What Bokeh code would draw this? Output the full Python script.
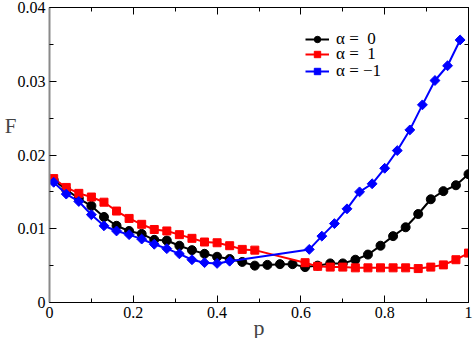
import math
from bokeh.plotting import figure
from bokeh.models import (LinearAxis, FixedTicker, Legend, LegendItem)
from bokeh.embed import file_html
from bokeh.resources import INLINE

# ---- data ----
p_black = [0.01, 0.04, 0.07, 0.10, 0.13, 0.16, 0.19, 0.22, 0.25, 0.28, 0.31, 0.34,
           0.37, 0.40, 0.43, 0.46, 0.49, 0.52, 0.55, 0.58, 0.61, 0.64, 0.67, 0.70,
           0.73, 0.76, 0.79, 0.82, 0.85, 0.88, 0.91, 0.94, 0.97, 1.00]
F_black = [0.0166, 0.0153, 0.0141, 0.0131, 0.0116, 0.0104, 0.0097, 0.0093, 0.0085, 0.0084,
           0.0077, 0.0071, 0.0066, 0.0062, 0.0059, 0.0055, 0.0050, 0.0051, 0.0052, 0.0052,
           0.0048, 0.0050, 0.0053, 0.0053, 0.0058, 0.0065, 0.0077, 0.0090, 0.0102, 0.0120,
           0.0140, 0.0151, 0.0159, 0.0174]

p_red = [0.01, 0.04, 0.07, 0.10, 0.13, 0.16, 0.19, 0.22, 0.25, 0.28, 0.31, 0.34,
         0.37, 0.40, 0.43, 0.46, 0.49, 0.61, 0.64, 0.67, 0.70, 0.73, 0.76, 0.79,
         0.82, 0.85, 0.88, 0.91, 0.94, 0.97, 1.00]
F_red = [0.0168, 0.0156, 0.0148, 0.0143, 0.0136, 0.0124, 0.0114, 0.0106, 0.0099, 0.0097,
         0.0092, 0.0087, 0.0082, 0.0081, 0.0077, 0.0072, 0.0071, 0.0054, 0.0049, 0.0048,
         0.0048, 0.0047, 0.0047, 0.0047, 0.0047, 0.0047, 0.0046, 0.0048, 0.0051, 0.0058,
         0.0067]

p_blue = [0.01, 0.04, 0.07, 0.10, 0.13, 0.16, 0.19, 0.22, 0.25, 0.28, 0.31, 0.34,
          0.37, 0.40, 0.43, 0.62, 0.65, 0.68, 0.71, 0.74, 0.77, 0.80, 0.83, 0.86,
          0.89, 0.92, 0.95, 0.98]
F_blue = [0.0163, 0.0147, 0.0137, 0.0119, 0.0104, 0.0097, 0.0092, 0.0086, 0.0079, 0.0073,
          0.0066, 0.0058, 0.0054, 0.0053, 0.0056, 0.0072, 0.0090, 0.0107, 0.0127, 0.0150,
          0.0161, 0.0182, 0.0206, 0.0234, 0.0268, 0.0301, 0.0321, 0.0356]

NB = "\u00a0"
series_labels = ["\u03b1 =  0", "\u03b1 =  1", "\u03b1 = \u22121"]

x_ticks = [0, 0.2, 0.4, 0.6, 0.8, 1.0]
x_tick_labels = ["0", "0.2", "0.4", "0.6", "0.8", "1"]
x_minor = [0.1, 0.3, 0.5, 0.7, 0.9]
y_ticks = [0, 0.01, 0.02, 0.03, 0.04]
y_tick_labels = ["0", "0.01", "0.02", "0.03", "0.04"]
y_minor = [0.005, 0.015, 0.025, 0.035]

FONT = "Liberation Serif"

p = figure(width=473, height=342, x_range=(0, 1), y_range=(0, 0.04),
           output_backend="svg", toolbar_location=None,
           min_border_left=49, min_border_right=5, min_border_top=7, min_border_bottom=38)
p.grid.visible = False
p.outline_line_color = "black"
p.outline_line_width = 1
p.xaxis.visible = False
p.yaxis.visible = False

def style_axis(ax, ticks, minor, labels, show_labels, line_color="black", line_width=1):
    ax.ticker = FixedTicker(ticks=ticks, minor_ticks=minor)
    ax.major_tick_in = 7
    ax.major_tick_out = 0
    ax.minor_tick_in = 4
    ax.minor_tick_out = 0
    ax.major_tick_line_color = "black"
    ax.minor_tick_line_color = "black"
    ax.axis_line_color = line_color
    ax.axis_line_width = line_width
    if show_labels:
        ax.major_label_overrides = {t: l for t, l in zip(ticks, labels)}
        ax.major_label_text_font = FONT
        ax.major_label_text_font_size = "16px"
        ax.major_label_text_color = "black"
    else:
        ax.major_label_text_font_size = "0px"
        ax.major_label_text_color = None
        ax.major_label_standoff = 0

xb = LinearAxis()
style_axis(xb, x_ticks, x_minor, x_tick_labels, True)
xb.major_label_standoff = 4
xb.axis_label = "p"
xb.axis_label_text_font = FONT
xb.axis_label_text_font_style = "normal"
xb.axis_label_text_font_size = "22px"
xb.axis_label_standoff = -6
p.add_layout(xb, "below")

yl = LinearAxis()
style_axis(yl, y_ticks, y_minor, y_tick_labels, True, line_color="#8a8a8a", line_width=2)
yl.major_label_standoff = 4
yl.axis_label = "F\n" + NB + "\n" + NB
yl.axis_label_orientation = "horizontal"
yl.axis_label_text_font = FONT
yl.axis_label_text_font_style = "normal"
yl.axis_label_text_font_size = "21px"
yl.axis_label_standoff = -2
p.add_layout(yl, "left")

xt = LinearAxis()
style_axis(xt, x_ticks, x_minor, x_tick_labels, False)
p.add_layout(xt, "above")

yr = LinearAxis()
style_axis(yr, y_ticks, y_minor, y_tick_labels, False)
p.add_layout(yr, "right")

specs = [
    (p_black, F_black, "black", "circle", 9, 0),
    (p_red, F_red, "red", "square", 8, 0),
    (p_blue, F_blue, "blue", "square", 7, math.pi / 4),
]
legend_y = [253, 238, 221]
for (xs, ys, col, mk, sz, ang), lab, ly in zip(specs, series_labels, legend_y):
    ln = p.line(xs, ys, line_color=col, line_width=2)
    sc = p.scatter(xs, ys, marker=mk, size=sz, angle=ang, fill_color=col, line_color=col)
    leg = Legend(items=[LegendItem(label=lab, renderers=[ln, sc])], location=(256, ly))
    leg.border_line_color = None
    leg.background_fill_alpha = 0
    leg.padding = 0
    leg.margin = 0
    leg.spacing = 0
    leg.glyph_width = 24
    leg.glyph_height = 16
    leg.label_height = 16
    leg.label_standoff = 7
    leg.label_text_font = FONT
    leg.label_text_font_size = "17px"
    leg.label_text_color = "black"
    p.add_layout(leg)

open("out.html", "w").write(file_html(p, INLINE))
